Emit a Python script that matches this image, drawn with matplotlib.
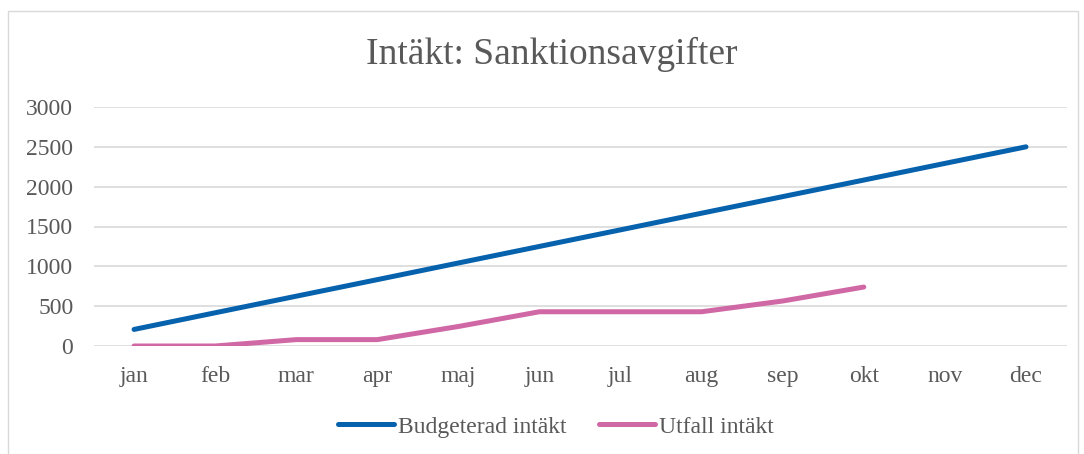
import matplotlib
matplotlib.use("Agg")
import matplotlib.pyplot as plt
from matplotlib.patches import Rectangle

months = ["jan", "feb", "mar", "apr", "maj", "jun", "jul", "aug", "sep", "okt", "nov", "dec"]
budget = [208, 417, 625, 833, 1042, 1250, 1458, 1667, 1875, 2083, 2292, 2500]
utfall = [0, 0, 80, 80, 245, 430, 430, 430, 565, 740]
yticks = [0, 500, 1000, 1500, 2000, 2500, 3000]

title = "Intäkt: Sanktionsavgifter"
labels = ["Budgeterad intäkt", "Utfall intäkt"]
colors = ["#0762AD", "#D068A5"]
txt = "#595959"

plt.rcParams['font.family'] = ['Liberation Serif', 'DejaVu Serif']

fig = plt.figure(figsize=(10.84, 4.54), dpi=100)
fig.patches.append(Rectangle((8/1084, -0.01), 1070/1084, 1 - 11/454 + 0.01,
                             transform=fig.transFigure, fill=False,
                             edgecolor="#D9D9D9", linewidth=1.0))
ax = fig.add_axes([93.5/1084, 1 - 346/454, 973/1084, 239/454])

x = list(range(len(months)))
l1, = ax.plot(x, budget, color=colors[0], lw=3.6, solid_capstyle="round", label=labels[0])
l2, = ax.plot(x[:len(utfall)], utfall, color=colors[1], lw=3.6, solid_capstyle="round", label=labels[1])

ax.set_xlim(-0.5, len(months) - 0.5)
ax.set_ylim(0, 3000)
ax.set_yticks(yticks)
ax.set_yticklabels([str(v) for v in yticks])
ax.set_xticks(x)
ax.set_xticklabels(months)
ax.grid(axis="y", color="#D9D9D9", lw=1.2)
ax.set_axisbelow(True)
for s in ax.spines.values():
    s.set_visible(False)
ax.tick_params(axis="both", length=0, labelsize=17, colors=txt)
ax.tick_params(axis="y", pad=14.5)
ax.tick_params(axis="x", pad=14.5)

fig.text(552/1084, 1 - 54/454, title, ha="center", va="center", fontsize=27, color=txt)

leg = fig.legend(handles=[l1, l2], loc="center", bbox_to_anchor=(556/1084, 1 - 427/454),
                 ncol=2, frameon=False, fontsize=17, handlelength=2.37,
                 handletextpad=0.2, columnspacing=1.35)
for t in leg.get_texts():
    t.set_color(txt)

fig.savefig("out.png", dpi=100)
